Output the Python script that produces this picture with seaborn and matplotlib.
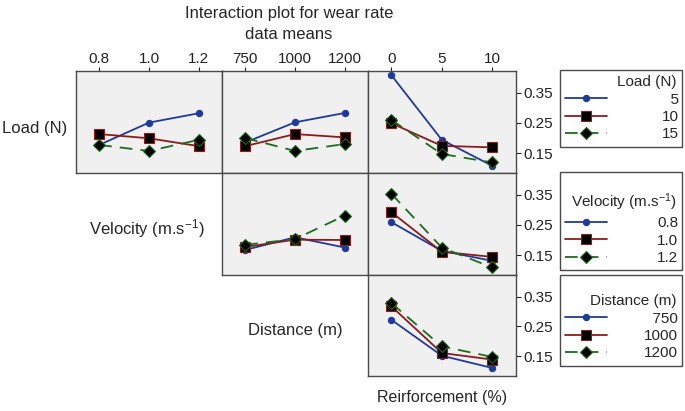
import matplotlib
matplotlib.use("Agg")
import pandas as pd
import matplotlib.pyplot as plt
import seaborn as sns

sns.set_style("white")
plt.rcParams['font.family'] = ['Liberation Sans', 'DejaVu Sans']
plt.rcParams['mathtext.default'] = 'regular'

# factor levels
load_levels = ["5", "10", "15"]
velocity_levels = ["0.8", "1.0", "1.2"]
distance_levels = ["750", "1000", "1200"]
reinf_levels = ["0", "5", "10"]

# wear rate means, one list per trace level (rows: trace factor, x: column factor)
load_x_velocity = [[0.177, 0.251, 0.282], [0.213, 0.199, 0.173], [0.177, 0.157, 0.194]]
load_x_distance = [[0.185, 0.252, 0.283], [0.173, 0.213, 0.202], [0.200, 0.157, 0.180]]
load_x_reinf = [[0.408, 0.194, 0.108], [0.249, 0.174, 0.169], [0.260, 0.147, 0.119]]
velocity_x_distance = [[0.167, 0.209, 0.175], [0.177, 0.201, 0.200], [0.184, 0.203, 0.281]]
velocity_x_reinf = [[0.259, 0.164, 0.131], [0.292, 0.161, 0.144], [0.353, 0.175, 0.109]]
distance_x_reinf = [[0.272, 0.152, 0.111], [0.317, 0.161, 0.139], [0.328, 0.183, 0.148]]

colors = ["#1f3a9a", "#8a1c1c", "#1d6b1d"]
markers = ["o", "s", "D"]
styles = ["-", "-", (0, (7, 4.5))]
faces = ["#1f3a9a", "black", "black"]
msizes = [4.5, 6.5, 6.5]

W, H = 685, 411
fig = plt.figure(figsize=(W / 100, H / 100), dpi=100)

col_edges = [76, 222, 368, 515.5]
row_edges = [71, 173, 275, 376]

panels = {
    (0, 0): (load_x_velocity, velocity_levels),
    (0, 1): (load_x_distance, distance_levels),
    (0, 2): (load_x_reinf, reinf_levels),
    (1, 1): (velocity_x_distance, distance_levels),
    (1, 2): (velocity_x_reinf, reinf_levels),
    (2, 2): (distance_x_reinf, reinf_levels),
}

axes = {}
for (r, c), (series, xlevels) in panels.items():
    x0, x1 = col_edges[c], col_edges[c + 1]
    y0, y1 = row_edges[r], row_edges[r + 1]
    ax = fig.add_axes([x0 / W, 1 - y1 / H, (x1 - x0) / W, (y1 - y0) / H])
    ax.set_facecolor("#f0f0f0")
    for i, vals in enumerate(series):
        df = pd.DataFrame({"pos": range(len(xlevels)), "wear": vals})
        sns.lineplot(data=df, x="pos", y="wear", ax=ax, color=colors[i],
                     marker=markers[i], linestyle=styles[i], lw=1.3,
                     mfc=faces[i], mec=colors[i], mew=0.8, ms=msizes[i])
    ax.set_xlim(-0.465, 2.465)
    ax.set_ylim(0.084, 0.422)
    ax.set_xlabel("")
    ax.set_ylabel("")
    for s in ax.spines.values():
        s.set_color("#4a4a4a")
        s.set_linewidth(1.0)
    ax.set_xticks(range(3))
    ax.set_yticks([0.15, 0.25, 0.35])
    if r == 0:
        ax.set_xticklabels(xlevels)
        ax.tick_params(axis="x", top=True, labeltop=True, bottom=False,
                       labelbottom=False, length=3, width=0.8, pad=0.5,
                       labelsize=11, colors="#222222")
    else:
        ax.tick_params(axis="x", top=False, bottom=False, labeltop=False,
                       labelbottom=False)
    if c == 2:
        ax.set_yticklabels(["0.15", "0.25", "0.35"])
        ax.tick_params(axis="y", right=True, labelright=True, left=False,
                       labelleft=False, length=3.5, width=0.8, pad=2,
                       labelsize=11, colors="#222222")
    else:
        ax.tick_params(axis="y", left=False, right=False, labelleft=False,
                       labelright=False)
    axes[(r, c)] = ax

fig.text(289 / W, 1 - 24 / H, "Interaction plot for wear rate\ndata means",
         ha="center", va="center", fontsize=12, linespacing=1.45)
fig.text(35 / W, 1 - 128 / H, "Load (N)", ha="center", va="center", fontsize=12)
fig.text(147 / W, 1 - 229 / H, "Velocity (m.s$^{-1}$)", ha="center", va="center",
         fontsize=12)
fig.text(295 / W, 1 - 330 / H, "Distance (m)", ha="center", va="center", fontsize=12)
fig.text(442 / W, 1 - 397 / H, "Reirforcement (%)", ha="center", va="center",
         fontsize=11.5)

# figure spaces keep the level labels right-aligned against the box edge
fs = "\u2007"
legend_specs = [
    (0, "Load (N)", [fs + "5", "10", "15"], 70, 3.6),
    (1, "\nVelocity (m.s$^{-1}$)", velocity_levels, 172, 3.3),
    (2, "\nDistance (m)", [fs + "750", "1000", "1200"], 275, 2.45),
]
for r, title, labels, top, pad in legend_specs:
    handles = axes[(r, 2)].get_lines()[:3]
    leg = fig.legend(handles, labels, title=title, loc="upper left",
                     bbox_to_anchor=(560 / W, 1 - top / H, 122 / W, 0.0001),
                     mode="expand", alignment="right", fontsize=11,
                     title_fontsize=11, handlelength=2.7, handletextpad=pad,
                     labelspacing=0.22, borderpad=0.35, borderaxespad=0,
                     frameon=True, fancybox=False, framealpha=1,
                     edgecolor="#4a4a4a")
    leg.get_title().set_linespacing(1.0)
    leg.get_frame().set_linewidth(1.0)

fig.savefig("out.png", dpi=100)
